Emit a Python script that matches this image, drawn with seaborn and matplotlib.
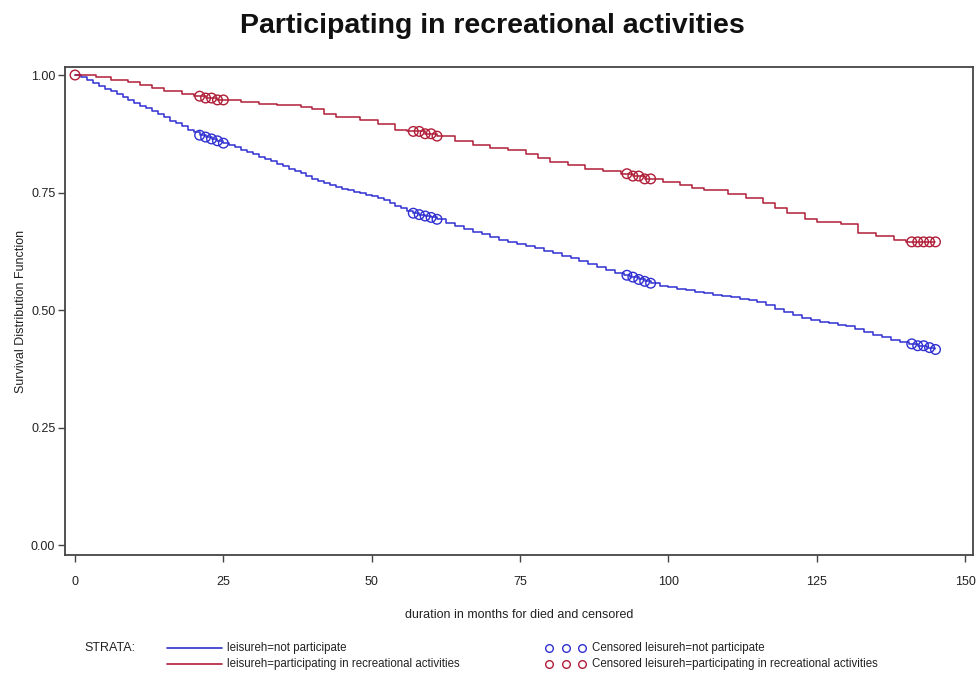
import matplotlib
matplotlib.use("Agg")
import matplotlib.pyplot as plt
from matplotlib import font_manager
from matplotlib.lines import Line2D
import numpy as np
import pandas as pd
import seaborn as sns

# Kaplan-Meier step estimates (months, survival probability after each event)
np_times = [0, 1, 2, 3, 4, 5, 6, 7, 8, 9, 10, 11, 12, 13, 14, 15, 16, 17, 18, 19, 20,
            21, 22, 23, 24, 25, 26, 27, 28, 29, 30, 31, 32, 33, 34, 35, 36, 37, 38, 39,
            40, 41, 42, 43, 44, 45, 46, 47, 48, 49, 50, 51, 52, 53, 54, 55, 56, 57, 58,
            59, 60, 61, 62.5, 64, 65.5, 67, 68.5, 70, 71.5, 73, 74.5, 76, 77.5, 79,
            80.5, 82, 83.5, 85, 86.5, 88, 89.5, 91, 92.5, 93.5, 95, 96, 97, 98.5, 100,
            101.5, 103, 104.5, 106, 107.5, 109, 110.5, 112, 113.5, 115, 116.5, 118,
            119.5, 121, 122.5, 124, 125.5, 127, 128.5, 130, 131.5, 133, 134.5, 136,
            137.5, 139, 140.5, 142, 143.5, 145]
np_surv = [1.000, 0.995, 0.989, 0.983, 0.977, 0.971, 0.965, 0.959, 0.953, 0.947, 0.941,
           0.935, 0.929, 0.923, 0.917, 0.910, 0.903, 0.897, 0.891, 0.884, 0.878, 0.872,
           0.868, 0.864, 0.860, 0.855, 0.851, 0.846, 0.841, 0.836, 0.831, 0.826, 0.821,
           0.816, 0.811, 0.806, 0.801, 0.796, 0.791, 0.785, 0.779, 0.775, 0.771, 0.767,
           0.762, 0.758, 0.755, 0.752, 0.748, 0.745, 0.742, 0.739, 0.734, 0.728, 0.722,
           0.716, 0.711, 0.706, 0.703, 0.700, 0.697, 0.693, 0.686, 0.679, 0.673, 0.667,
           0.662, 0.656, 0.650, 0.645, 0.640, 0.636, 0.631, 0.626, 0.621, 0.615, 0.610,
           0.604, 0.598, 0.591, 0.585, 0.579, 0.574, 0.570, 0.565, 0.561, 0.557, 0.552,
           0.548, 0.545, 0.542, 0.539, 0.536, 0.533, 0.530, 0.527, 0.524, 0.521, 0.518,
           0.510, 0.503, 0.496, 0.489, 0.484, 0.479, 0.475, 0.472, 0.469, 0.466, 0.460,
           0.453, 0.447, 0.442, 0.437, 0.432, 0.428, 0.424, 0.420, 0.416]

rec_times = [0, 3.5, 6, 9, 11, 13, 15, 18, 20, 22, 24, 28, 31, 34, 38, 40, 42, 44, 48,
             51, 54, 56, 59, 61, 64, 67, 70, 73, 76, 78, 80, 83, 86, 89, 92, 94, 96, 99,
             102, 104, 106, 110, 113, 116, 118, 120, 123, 125, 129, 132, 135, 138, 140, 145]
rec_surv = [1.000, 0.995, 0.990, 0.985, 0.978, 0.972, 0.966, 0.960, 0.955, 0.951, 0.947,
            0.943, 0.939, 0.936, 0.933, 0.927, 0.918, 0.910, 0.904, 0.895, 0.884, 0.880,
            0.875, 0.870, 0.860, 0.851, 0.844, 0.840, 0.833, 0.823, 0.815, 0.808, 0.801,
            0.795, 0.790, 0.785, 0.779, 0.773, 0.767, 0.760, 0.755, 0.746, 0.739, 0.728,
            0.716, 0.706, 0.694, 0.688, 0.684, 0.663, 0.657, 0.650, 0.645, 0.645]

# Censoring times
np_censor = [21, 22, 23, 24, 25, 57, 58, 59, 60, 61, 93, 94, 95, 96, 97,
             141, 142, 143, 144, 145]
rec_censor = [0, 21, 22, 23, 24, 25, 57, 58, 59, 60, 61, 93, 94, 95, 96, 97,
              141, 142, 143, 144, 145]

x_ticks = [0, 25, 50, 75, 100, 125, 150]
y_ticks = [0.00, 0.25, 0.50, 0.75, 1.00]

title = "Participating in recreational activities"
x_label = "duration in months for died and censored"
y_label = "Survival Distribution Function"
strata_labels = ["leisureh=not participate",
                 "leisureh=participating in recreational activities"]

BLUE = "#3030d2"
RED = "#b01e38"
TEXT = "#222222"

sns.set_theme(style="white")
available = {f.name for f in font_manager.fontManager.ttflist}
family = ["Liberation Sans Narrow"] if "Liberation Sans Narrow" in available else ["Liberation Sans"]
plt.rcParams["font.family"] = family + ["DejaVu Sans"]


def survival_at(times, surv, t):
    idx = np.searchsorted(times, t, side="right") - 1
    return surv[idx]


curves = pd.concat([
    pd.DataFrame({"month": np_times, "surv": np_surv, "stratum": strata_labels[0]}),
    pd.DataFrame({"month": rec_times, "surv": rec_surv, "stratum": strata_labels[1]}),
])
censored = pd.concat([
    pd.DataFrame({"month": np_censor,
                  "surv": [survival_at(np_times, np_surv, t) for t in np_censor],
                  "stratum": strata_labels[0]}),
    pd.DataFrame({"month": rec_censor,
                  "surv": [survival_at(rec_times, rec_surv, t) for t in rec_censor],
                  "stratum": strata_labels[1]}),
])

fig = plt.figure(figsize=(9.76, 6.73), dpi=100)
ax = fig.add_axes([0.0666, 0.1753, 0.9305, 0.7251])

palette = {strata_labels[0]: BLUE, strata_labels[1]: RED}
sns.lineplot(data=curves, x="month", y="surv", hue="stratum", palette=palette,
             drawstyle="steps-post", linewidth=1.1, legend=False, ax=ax,
             estimator=None, sort=True)
for lab in strata_labels:
    sub = censored[censored["stratum"] == lab]
    sns.scatterplot(x=sub["month"], y=sub["surv"], marker="o", s=48,
                    facecolor="none", edgecolor=palette[lab], linewidth=1.0,
                    legend=False, ax=ax, zorder=3)

ax.set_xlim(-1.69, 151.35)
ax.set_ylim(-0.0213, 1.017)
ax.set_xticks(x_ticks)
ax.set_xticklabels([str(v) for v in x_ticks])
ax.set_yticks(y_ticks)
ax.set_yticklabels([f"{v:.2f}" for v in y_ticks])
ax.tick_params(axis="both", which="major", bottom=True, left=True, direction="out",
               length=5, width=1, color="#444444", labelsize=9, labelcolor=TEXT)
ax.tick_params(axis="x", pad=10)
ax.tick_params(axis="y", pad=2)
for sp in ax.spines.values():
    sp.set_color("#444444")
    sp.set_linewidth(1.3)
ax.set_xlabel(x_label, fontsize=9, color=TEXT, labelpad=15)
ax.set_ylabel(y_label, fontsize=9, color=TEXT, labelpad=3)

fig.text(0.504, 0.962, title, ha="center", va="center", fontsize=20.5,
         fontweight="bold", color="#111111")

# Legend block under the plot
fs = 8.3
fig.text(84 / 976, 1 - 648 / 673, "STRATA:", fontsize=fs + 0.7, va="center", color=TEXT)
rows = [(648, strata_labels[0], BLUE), (664, strata_labels[1], RED)]
for ypx, lab, col in rows:
    yf = 1 - ypx / 673
    fig.add_artist(Line2D([167 / 976, 222 / 976], [yf, yf], color=col, linewidth=1.2,
                          transform=fig.transFigure))
    fig.text(227 / 976, yf, lab, fontsize=fs, va="center", color=TEXT)
    for xpx in (549, 566, 582):
        fig.add_artist(Line2D([xpx / 976], [yf], marker="o", markersize=5.5,
                              markerfacecolor="none", markeredgecolor=col,
                              markeredgewidth=1.0, linestyle="none",
                              transform=fig.transFigure))
    fig.text(592 / 976, yf, "Censored " + lab, fontsize=fs, va="center", color=TEXT)

fig.savefig("out.png", dpi=100, facecolor="white")
